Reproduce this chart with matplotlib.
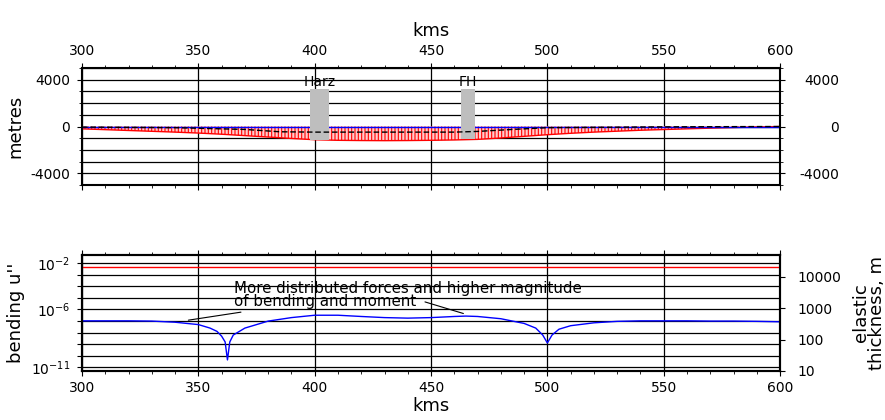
import math
import matplotlib
matplotlib.use("Agg")
import matplotlib.pyplot as plt
from matplotlib.ticker import MultipleLocator, FixedLocator, FuncFormatter
from matplotlib.transforms import ScaledTranslation

plt.rcParams['axes.unicode_minus'] = False
plt.rcParams['hatch.linewidth'] = 0.8

# ---- top panel: deflection profile (metres) ----
km = [300, 310, 320, 330, 340, 350, 360, 370, 380, 390, 400, 410, 420, 430, 440, 450,
      460, 470, 480, 490, 500, 510, 520, 530, 540, 550, 560, 570, 580, 590, 600]
deflection = [-200, -270, -340, -410, -480, -560, -660, -780, -900, -1020, -1130, -1180,
              -1200, -1210, -1200, -1180, -1150, -1100, -980, -840, -700, -580, -480,
              -400, -320, -260, -200, -140, -90, -40, 0]
surface = [0] * len(km)

load_km = [300, 340, 370, 385, 400, 460, 470, 485, 500, 550, 600]
load_m = [-50, -100, -250, -450, -480, -480, -420, -250, -100, -30, 0]

blocks = ['Harz', 'FH']
block_left = [398, 463]
block_right = [406, 469]
block_base = [-1150, -1100]
block_top = [3200, 3200]

# ---- bottom panel: bending u'' and elastic thickness ----
bend_km = [300, 310, 320, 330, 340, 345, 350, 355, 358, 360, 361.5, 362.5, 363.5, 365,
           370, 380, 390, 400, 410, 420, 430, 440, 450, 460, 465, 470, 480, 490, 495,
           498, 500, 502, 505, 510, 520, 530, 540, 550, 560, 570, 580, 590, 600]
bend_u = [1.05e-7, 1.05e-7, 1.05e-7, 1.0e-7, 8.0e-8, 6.3e-8, 5.0e-8, 2.5e-8, 1.3e-8,
          5.0e-9, 1.6e-9, 4.5e-11, 1.6e-9, 6.3e-9, 2.5e-8, 1.0e-7, 2.0e-7, 3.2e-7,
          3.2e-7, 2.5e-7, 2.0e-7, 1.8e-7, 2.0e-7, 2.5e-7, 2.7e-7, 2.5e-7, 1.6e-7,
          6.3e-8, 2.5e-8, 6.3e-9, 1.3e-9, 6.3e-9, 2.0e-8, 4.0e-8, 7.1e-8, 9.5e-8,
          1.05e-7, 1.05e-7, 1.05e-7, 1.0e-7, 1.0e-7, 9.5e-8, 8.7e-8]
thickness_km = [300, 600]
thickness_m = [2.0e4, 2.0e4]

note = "More distributed forces and higher magnitude\nof bending and moment"
note_xy = (365.4, 1.0e-6)
note_arrows = [((368.3, 5.9e-7), (345.7, 1.2e-7)),
               ((447.4, 4.5e-6), (463.9, 4.5e-7))]
shown_exp = {-2, -6, -11}

fig = plt.figure(figsize=(8.85, 4.2), dpi=100)
ax1 = fig.add_axes([0.0927, 0.5595, 0.7887, 0.2786])
ax2 = fig.add_axes([0.0927, 0.1167, 0.7887, 0.2762])

# ---- top panel ----
ax1.fill_between(km, deflection, surface, facecolor='#ffcccc', edgecolor='red',
                 hatch='|||||', linewidth=0, zorder=2)
ax1.plot(km, deflection, color='red', lw=1, zorder=3)
ax1.plot(km, surface, color='blue', lw=1, zorder=3)
ax1.plot(load_km, load_m, color='black', lw=1, ls=(0, (4, 2)), zorder=5)
for name, l, r, b, t in zip(blocks, block_left, block_right, block_base, block_top):
    ax1.bar(l, t - b, width=r - l, bottom=b, align='edge', color='#bebebe', zorder=4)
    ax1.text((l + r) / 2, t, name, ha='center', va='bottom', fontsize=10, zorder=6)

ax1.set_xlim(300, 600)
ax1.set_ylim(-5000, 5000)
ax1.xaxis.set_major_locator(MultipleLocator(50))
ax1.xaxis.set_minor_locator(MultipleLocator(10))
ax1.yaxis.set_major_locator(MultipleLocator(4000))
ax1.yaxis.set_minor_locator(MultipleLocator(1000))
ax1.grid(True, which='both', color='black', lw=0.9, zorder=1)
ax1.grid(False, axis='x', which='minor')
ax1.xaxis.set_label_position('top')
ax1.set_xlabel('kms', fontsize=13, labelpad=6)
ax1.set_ylabel('metres', fontsize=13, labelpad=4)
ax1.tick_params(axis='x', which='both', direction='out', top=True, bottom=True,
                labeltop=True, labelbottom=False, labelsize=10)
ax1.tick_params(axis='y', which='both', direction='out', left=True, right=True,
                labelleft=True, labelright=True, labelsize=10, pad=5)
fig.canvas.draw()
for tk in ax1.yaxis.get_major_ticks():
    tk.label2.set_horizontalalignment('right')
    tk.label2.set_transform(tk.label2.get_transform() +
                            ScaledTranslation(34 / 72, 0, fig.dpi_scale_trans))
for sp in ax1.spines.values():
    sp.set_linewidth(1.5)
    sp.set_zorder(7)

# ---- bottom panel ----
ax2.plot(bend_km, bend_u, color='blue', lw=1, zorder=3)
ax2.set_yscale('log')
ax2.set_xlim(300, 600)
ax2.set_ylim(5e-12, 5e-2)
ax2.yaxis.set_major_locator(FixedLocator([10.0 ** e for e in range(-11, -1)]))
ax2.yaxis.set_minor_locator(FixedLocator([]))


def exp_label(v, pos):
    e = round(math.log10(v))
    return '$10^{%d}$' % e if e in shown_exp else ''


ax2.yaxis.set_major_formatter(FuncFormatter(exp_label))
ax2.xaxis.set_major_locator(MultipleLocator(50))
ax2.xaxis.set_minor_locator(MultipleLocator(10))
ax2.grid(True, which='major', color='black', lw=0.9, zorder=1)
ax2.set_xlabel('kms', fontsize=13, labelpad=2)
ax2.set_ylabel("bending u''", fontsize=13, labelpad=4)
ax2.tick_params(axis='x', which='both', direction='out', top=True, bottom=True,
                labelsize=10)
ax2.tick_params(axis='y', which='both', direction='out', labelsize=10, pad=5)
for sp in ax2.spines.values():
    sp.set_linewidth(1.5)
    sp.set_zorder(7)

for (tx, ty), (hx, hy) in note_arrows:
    ax2.annotate('', xy=(hx, hy), xytext=(tx, ty),
                 arrowprops=dict(arrowstyle='-', color='black', lw=0.8,
                                 shrinkA=0, shrinkB=0), zorder=6)
ax2.text(note_xy[0], note_xy[1], note, fontsize=10.8, ha='left', va='bottom',
         linespacing=0.9, zorder=6)

ax3 = ax2.twinx()
ax3.plot(thickness_km, thickness_m, color='red', lw=1)
ax3.set_yscale('log')
ax3.set_ylim(10, 5e4)
ax3.yaxis.set_major_locator(FixedLocator([10, 100, 1000, 10000]))
ax3.yaxis.set_minor_locator(FixedLocator([]))
ax3.yaxis.set_major_formatter(FuncFormatter(lambda v, p: '%d' % v))
ax3.tick_params(axis='y', direction='out', labelsize=10, pad=9)
ax3.set_ylabel('elastic\nthickness, m', fontsize=13, labelpad=8, linespacing=0.8)
for sp in ax3.spines.values():
    sp.set_linewidth(1.5)

fig.savefig('out.png', dpi=100)
